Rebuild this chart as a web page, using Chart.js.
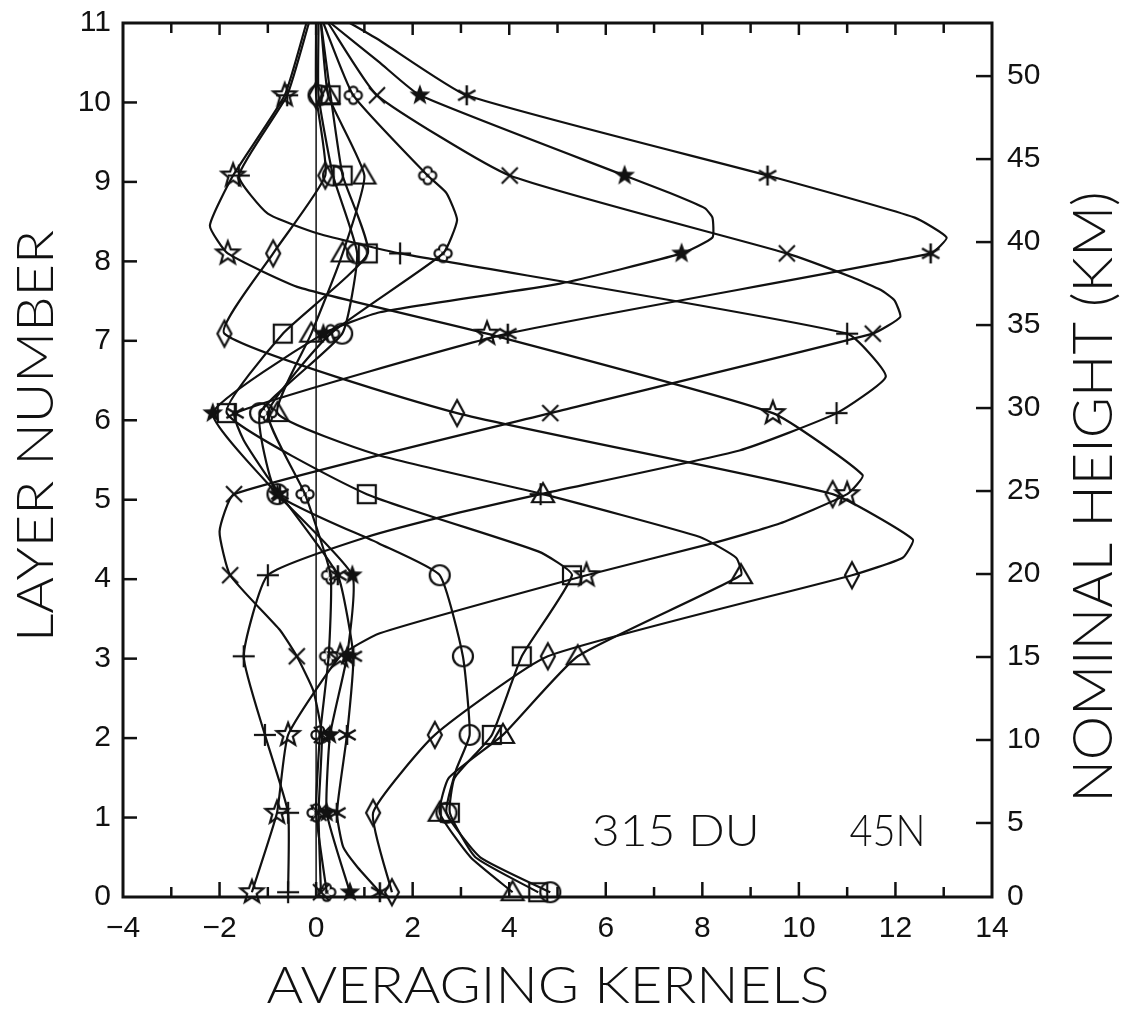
<!DOCTYPE html>
<html>
<head>
<meta charset="utf-8">
<title>Averaging kernels</title>
<script src="https://cdn.jsdelivr.net/npm/chart.js@4.4.0/dist/chart.umd.min.js"></script>
<style>
  html, body { margin: 0; padding: 0; background: #fff; }
  #wrap { width: 1126px; height: 1012px; }
</style>
</head>
<body>
<div id="wrap"><canvas id="kernels" width="1126" height="1012"></canvas></div>
<script>
// layers where the symbols sit, plus the top of the plot where every curve ends
const markerLayers = [0.06, 1.06, 2.04, 3.03, 4.05, 5.07, 6.09, 7.09, 8.10, 9.08, 10.09];
const topLayer = 11;

// kernel value at each marker layer; the 12th value is where the curve meets the top
const circleK     = [4.85, 2.70, 3.18, 3.04, 2.56, -0.80, -1.16, 0.54, 0.85, 0.35, 0.05, 0.05];
const squareK     = [4.60, 2.77, 3.64, 4.26, 5.30, 1.05, -1.85, -0.69, 1.07, 0.55, 0.30, 0.10];
const triangleK   = [4.07, 2.56, 3.87, 5.42, 8.80, 4.70, -0.80, -0.10, 0.55, 1.00, 0.25, 0.10];
const diamondK    = [1.57, 1.18, 2.46, 4.80, 11.10, 10.70, 2.92, -1.90, -0.89, 0.19, 0.00, 0.00];
const starK       = [-1.33, -0.81, -0.58, 0.50, 5.60, 11.00, 9.46, 3.54, -1.83, -1.72, -0.65, -0.20];
const plusK       = [-0.58, -0.58, -1.06, -1.50, -1.00, 4.65, 10.78, 11.00, 1.74, -1.60, -0.60, -0.15];
const crossK      = [0.10, 0.05, 0.12, -0.40, -1.78, -1.70, 4.85, 11.53, 9.75, 4.01, 1.26, 0.25];
const asteriskK   = [1.32, 0.43, 0.64, 0.77, 0.45, -0.75, -1.68, 3.97, 12.73, 9.35, 3.12, 0.70];
const starFilledK = [0.70, 0.22, 0.29, 0.64, 0.75, -0.80, -2.14, 0.15, 7.57, 6.39, 2.15, 0.30];
const quatrefoilK = [0.22, 0.00, 0.08, 0.26, 0.30, -0.23, -1.00, 0.30, 2.63, 2.31, 0.77, 0.15];

// bends between the symbols, as [layer, value]
const circleBends     = [[0.5, 3.4], [1.6, 2.9], [4.45, 1.3]];
const squareBends     = [[0.5, 3.3], [1.5, 2.87], [4.35, 4.6]];
const triangleBends   = [[0.5, 3.2], [1.5, 2.75], [4.27, 8.7], [4.53, 7.95], [5.56, 1.3]];
const diamondBends    = [[4.27, 12.15], [4.5, 12.36]];
const starBends       = [[3.32, 1.32], [4.45, 8.2], [4.7, 9.6], [5.31, 11.32], [7.67, -0.34], [8.45, -2.2]];
const plusBends       = [[4.53, 1.05], [4.84, 2.98], [5.62, 8.77], [6.55, 11.8], [8.35, 0.04], [8.6, -1.0]];
const crossBends      = [[2.6, -0.06], [3.36, -0.75], [4.6, -2.0], [7.3, 12.1], [7.51, 11.98], [7.64, 11.7], [7.8, 11.1]];
const asteriskBends   = [[0.38, 0.85], [0.63, 0.56], [5.28, -1.0], [5.75, -1.5], [8.3, 13.06], [8.55, 12.4], [10.78, 1.32]];
const starFilledBends = [[7.36, 1.32], [7.72, 5.05], [8.3, 8.21], [8.55, 8.21], [8.67, 8.05], [8.86, 7.33], [10.5, 1.32]];
const quatrefoilBends = [[8.52, 2.92], [8.86, 2.7]];

// axis labels
const xTickLabels = [-4, -2, 0, 2, 4, 6, 8, 10, 12, 14];
const layerTicks = [0, 1, 2, 3, 4, 5, 6, 7, 8, 9, 10, 11];
const kmTicks = [0, 5, 10, 15, 20, 25, 30, 35, 40, 45, 50];
const noteLeft = '315 DU';
const noteRight = '45N';

const INK = '#111';
const FONT = "'Liberation Sans', Arial, sans-serif";
const TITLE_FONT = "Lato, 'Liberation Sans', Arial, sans-serif";

// open/filled plot symbols drawn once on small canvases
function makeSymbol(kind) {
  const s = 32;
  const c = document.createElement('canvas');
  c.width = c.height = s;
  const g = c.getContext('2d');
  g.translate(s / 2, s / 2);
  g.strokeStyle = INK;
  g.fillStyle = INK;
  g.lineWidth = 2.2;
  const line = (x1, y1, x2, y2) => { g.beginPath(); g.moveTo(x1, y1); g.lineTo(x2, y2); g.stroke(); };
  const starPath = (ro, ri) => {
    g.beginPath();
    for (let i = 0; i < 10; i++) {
      const r = i % 2 ? ri : ro;
      const a = -Math.PI / 2 + i * Math.PI / 5;
      g.lineTo(r * Math.cos(a), r * Math.sin(a));
    }
    g.closePath();
  };
  switch (kind) {
    case 'circle':
      g.beginPath(); g.arc(0, 0, 10, 0, 2 * Math.PI); g.stroke(); break;
    case 'square':
      g.strokeRect(-9, -9, 18, 18); break;
    case 'triangle':
      g.beginPath(); g.moveTo(0, -11); g.lineTo(11, 8); g.lineTo(-11, 8); g.closePath(); g.stroke(); break;
    case 'diamond':
      g.beginPath(); g.moveTo(0, -13); g.lineTo(7, 0); g.lineTo(0, 13); g.lineTo(-7, 0); g.closePath(); g.stroke(); break;
    case 'star':
      starPath(12, 5); g.stroke(); break;
    case 'starFilled':
      starPath(11, 4.5); g.fill(); break;
    case 'asterisk':
      g.lineWidth = 2.5;
      for (let k = 0; k < 3; k++) {
        const a = Math.PI / 2 + k * Math.PI / 3;
        line(-10 * Math.cos(a), -10 * Math.sin(a), 10 * Math.cos(a), 10 * Math.sin(a));
      }
      g.beginPath(); g.arc(0, 0, 3, 0, 2 * Math.PI); g.fill(); break;
    case 'cross':
      line(-8, -8, 8, 8); line(-8, 8, 8, -8); break;
    case 'plus':
      line(-11, 0, 11, 0); line(0, -11, 0, 11); break;
    case 'quatrefoil': {
      const lobes = [[0, -4.5], [4.5, 0], [0, 4.5], [-4.5, 0]];
      lobes.forEach(([x, y]) => { g.beginPath(); g.arc(x, y, 5.2, 0, 2 * Math.PI); g.fill(); });
      g.globalCompositeOperation = 'destination-out';
      lobes.forEach(([x, y]) => { g.beginPath(); g.arc(x, y, 3, 0, 2 * Math.PI); g.fill(); });
      break;
    }
  }
  return c;
}

const curves = [
  { values: circleK, bends: circleBends, sym: 'circle' },
  { values: squareK, bends: squareBends, sym: 'square' },
  { values: triangleK, bends: triangleBends, sym: 'triangle' },
  { values: diamondK, bends: diamondBends, sym: 'diamond' },
  { values: starK, bends: starBends, sym: 'star' },
  { values: plusK, bends: plusBends, sym: 'plus' },
  { values: crossK, bends: crossBends, sym: 'cross' },
  { values: asteriskK, bends: asteriskBends, sym: 'asterisk' },
  { values: starFilledK, bends: starFilledBends, sym: 'starFilled' },
  { values: quatrefoilK, bends: quatrefoilBends, sym: 'quatrefoil' },
];

function buildPoints(values, bends) {
  const pts = markerLayers.map((y, i) => ({ x: values[i], y, m: true }));
  pts.push({ x: values[markerLayers.length], y: topLayer, m: false });
  bends.forEach(([y, x]) => pts.push({ x, y, m: false }));
  return pts.sort((a, b) => a.y - b.y);
}

const datasets = curves.map(c => ({
  data: buildPoints(c.values, c.bends),
  showLine: true,
  borderColor: INK,
  borderWidth: 2.2,
  tension: 0.15,
  fill: false,
  clip: false,
  pointStyle: makeSymbol(c.sym),
  pointRadius: ctx => (ctx.raw && ctx.raw.m ? 9 : 0),
  pointBackgroundColor: 'transparent',
  pointBorderColor: INK,
}));

// stretched text so the lettering keeps the wide look of the plotter font
function wideText(ctx, text, cx, cy, width, rot, size) {
  ctx.save();
  ctx.translate(cx, cy);
  ctx.rotate(rot);
  ctx.font = `300 ${size}px ${TITLE_FONT}`;
  const w = ctx.measureText(text).width;
  ctx.scale(width / w, 1);
  ctx.fillStyle = INK;
  ctx.textAlign = 'center';
  ctx.textBaseline = 'middle';
  ctx.fillText(text, 0, 0);
  ctx.restore();
}

// frame, inward tick marks, zero line, axis titles and the note
const framePlugin = {
  id: 'frame',
  afterDraw(chart) {
    const { ctx, chartArea: a, scales } = chart;
    const x = scales.x, y = scales.y, km = scales.y2;
    ctx.save();
    ctx.strokeStyle = INK;

    // zero line
    const x0 = x.getPixelForValue(0);
    ctx.lineWidth = 1.5;
    ctx.beginPath(); ctx.moveTo(x0, a.top); ctx.lineTo(x0, a.bottom); ctx.stroke();

    ctx.lineWidth = 2.5;
    // bottom and top ticks every unit
    for (let v = xTickLabels[0] + 1; v < xTickLabels[xTickLabels.length - 1]; v++) {
      const px = x.getPixelForValue(v);
      const major = v % 2 === 0;
      ctx.beginPath(); ctx.moveTo(px, a.bottom); ctx.lineTo(px, a.bottom - (major ? 15 : 10)); ctx.stroke();
      ctx.beginPath(); ctx.moveTo(px, a.top); ctx.lineTo(px, a.top + (major ? 12 : 10)); ctx.stroke();
    }
    // left layer ticks
    layerTicks.slice(1, -1).forEach(v => {
      const py = y.getPixelForValue(v);
      ctx.beginPath(); ctx.moveTo(a.left, py); ctx.lineTo(a.left + 14, py); ctx.stroke();
    });
    // right height ticks
    kmTicks.slice(1).forEach(v => {
      const py = km.getPixelForValue(v);
      ctx.beginPath(); ctx.moveTo(a.right, py); ctx.lineTo(a.right - 16, py); ctx.stroke();
    });

    // frame
    ctx.lineWidth = 3;
    ctx.strokeRect(a.left, a.top, a.right - a.left, a.bottom - a.top);

    // axis titles
    wideText(ctx, 'LAYER NUMBER', 36, 436, 412, -Math.PI / 2, 52);
    wideText(ctx, 'AVERAGING KERNELS', 548, 986, 563, 0, 52);
    wideText(ctx, 'NOMINAL HEIGHT (KM)', 1094, 497, 611, -Math.PI / 2, 56);

    // note inside the plot
    const ny = y.getPixelForValue(0.82);
    const l1 = x.getPixelForValue(5.71), l2 = x.getPixelForValue(11.05);
    wideText(ctx, noteLeft, l1 + 84, ny, 168, 0, 44);
    wideText(ctx, noteRight, l2 + 38, ny, 76, 0, 44);
    ctx.restore();
  }
};

const xTickFont = { family: FONT, size: 30 };
const yTickFont = { family: FONT, size: 30, lineHeight: 0.5 };

new Chart(document.getElementById('kernels'), {
  type: 'scatter',
  data: { datasets },
  options: {
    responsive: false,
    animation: false,
    events: [],
    layout: { padding: { top: 23, left: 0, right: 0, bottom: 0 } },
    plugins: { legend: { display: false }, tooltip: { enabled: false } },
    scales: {
      x: {
        type: 'linear', position: 'bottom', min: -4, max: 14,
        grid: { display: false, drawTicks: false }, border: { display: false },
        afterBuildTicks: s => { s.ticks = xTickLabels.map(v => ({ value: v })); },
        ticks: {
          color: INK, font: xTickFont, padding: 14, autoSkip: false, maxRotation: 0,
          callback: v => (v < 0 ? '\u2212' + Math.abs(v) : String(v)),
        },
        afterFit: s => { s.height = 115; },
      },
      y: {
        type: 'linear', position: 'left', min: 0, max: 11,
        grid: { display: false, drawTicks: false }, border: { display: false },
        afterBuildTicks: s => { s.ticks = layerTicks.map(v => ({ value: v })); },
        ticks: { color: INK, font: yTickFont, padding: 12, autoSkip: false },
        afterFit: s => { s.width = 123; },
      },
      y2: {
        type: 'linear', position: 'right', min: 0.54, max: 53.2,
        grid: { display: false, drawTicks: false }, border: { display: false },
        afterBuildTicks: s => { s.ticks = kmTicks.map(v => ({ value: Math.max(v, s.min) })); },
        ticks: {
          color: INK, font: yTickFont, padding: 15, autoSkip: false,
          callback: (v, i) => String(kmTicks[i]),
        },
        afterFit: s => { s.width = 134; },
      },
    },
  },
  plugins: [framePlugin],
});
</script>
</body>
</html>
